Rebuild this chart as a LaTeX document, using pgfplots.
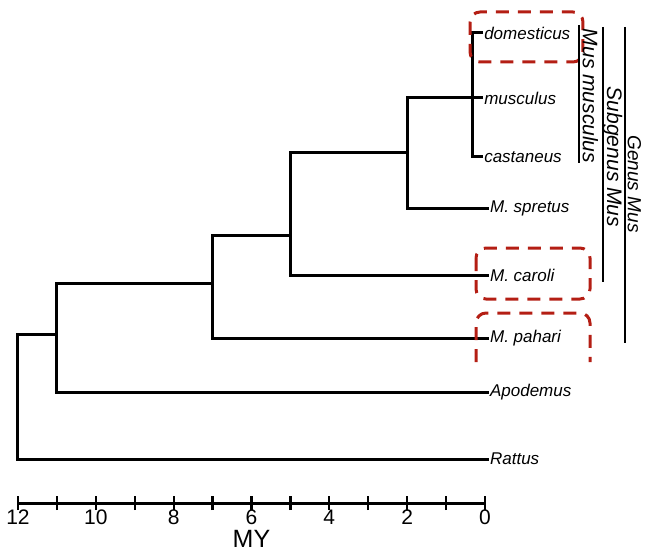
\documentclass[border=0pt]{standalone}
\usepackage{pgfplots}
\pgfplotsset{compat=1.18}
\usepackage{fontspec}
\setmainfont{Liberation Sans}
\definecolor{boxred}{RGB}{180,30,20}
\begin{document}
\begin{tikzpicture}
\begin{axis}[
 scale only axis, width=467pt, height=503pt,
 xmin=0, xmax=12, ymin=49, ymax=552, x dir=reverse,
 axis x line=bottom, axis y line=none,
 x axis line style={-, line width=3pt},
 xtick={0,2,...,12}, minor xtick={1,3,...,11},
 tick align=center, major tick length=14pt, minor tick length=14pt,
 tick style={black, line width=2.2pt},
 tick label style={font=\fontsize{21}{21}\selectfont},
 xticklabel style={inner sep=1pt, yshift=1pt},
 /pgf/number format/assume math mode=true,
 xlabel={MY}, xlabel style={font=\fontsize{25}{25}\selectfont, inner sep=0pt, yshift=-4pt},
 clip=false,
 cycle list={{black, solid, no markers}},
 every axis plot/.append style={line width=3pt, line join=miter},
]
% tree branches
\addplot coordinates {(0.05,519) (0.33,519) (0.33,395) (0.05,395)};
\addplot coordinates {(0.05,454) (2,454) (2,344) (-0.1,344)};
\addplot coordinates {(2,399) (5,399) (5,277) (-0.1,277)};
\addplot coordinates {(5,317) (7,317) (7,214) (-0.1,214)};
\addplot coordinates {(7,269) (11,269) (11,160) (-0.1,160)};
\addplot coordinates {(11,218) (12,218) (12,93) (-0.1,93)};
% leaf labels
\begin{scope}[every node/.style={anchor=west, inner sep=1pt, font=\itshape\fontsize{17}{17}\selectfont}]
\node at (axis cs:0.05,519) {domesticus};
\node at (axis cs:0.05,454) {musculus};
\node at (axis cs:0.05,395) {castaneus};
\node at (axis cs:-0.1,344) {M. spretus};
\node at (axis cs:-0.1,277) {M. caroli};
\node at (axis cs:-0.1,214) {M. pahari};
\node at (axis cs:-0.1,160) {Apodemus};
\node at (axis cs:-0.1,93) {Rattus};
\end{scope}
% red dashed boxes
\begin{scope}[boxred, line width=3pt, dash pattern=on 13pt off 9pt, rounded corners=10pt]
\draw (axis cs:0.385,540) rectangle (axis cs:-2.518,490);
\draw (axis cs:0.231,304) rectangle (axis cs:-2.698,253);
\draw (axis cs:0.231,190) -- (axis cs:0.231,239) -- (axis cs:-2.698,239) -- (axis cs:-2.698,190);
\end{scope}
% group bars
\draw[line width=1.3pt] (axis cs:-2.415,527) -- (axis cs:-2.415,389);
\draw[line width=1.3pt] (axis cs:-3.03,525) -- (axis cs:-3.03,270);
\draw[line width=1.3pt] (axis cs:-3.597,525) -- (axis cs:-3.597,209);
\begin{scope}[every node/.style={rotate=-90, anchor=base, inner sep=0pt, font=\itshape\fontsize{21}{21}\selectfont}]
\node at (axis cs:-2.518,456) {Mus musculus};
\node at (axis cs:-3.135,395) {Subgenus Mus};
\node[font=\itshape\fontsize{19}{19}\selectfont] at (axis cs:-3.674,368) {Genus Mus};
\end{scope}
\coordinate (BL) at (axis cs:12.4625,0);
\coordinate (TR) at (axis cs:-4.137,552);
\end{axis}
\pgfresetboundingbox
\useasboundingbox (BL) rectangle (TR);
\end{tikzpicture}
\end{document}
